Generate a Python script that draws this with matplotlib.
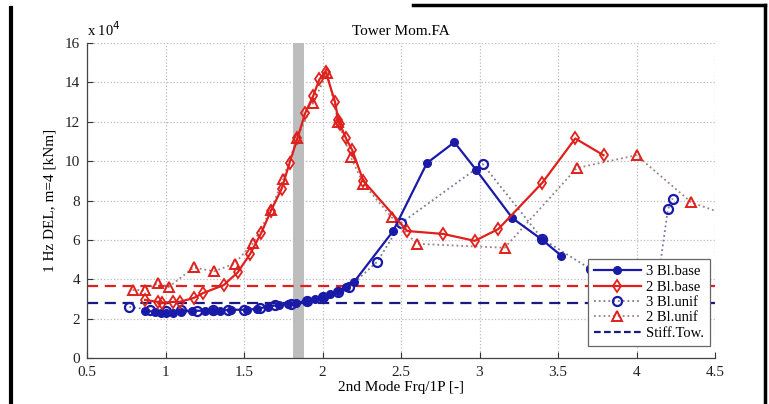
import matplotlib
matplotlib.use("Agg")
import matplotlib.pyplot as plt
from matplotlib.lines import Line2D

plt.rcParams['font.family'] = ['Liberation Serif', 'DejaVu Serif']

# 3 Bl.base (blue solid, filled circles)
x_3base = [0.87, 0.93, 0.97, 1.0, 1.05, 1.1, 1.17, 1.25, 1.3, 1.35, 1.42, 1.52, 1.58, 1.65,
           1.72, 1.78, 1.83, 1.9, 1.95, 2.0, 2.05, 2.1, 2.15, 2.2, 2.45, 2.665, 2.84, 2.98,
           3.21, 3.40, 3.52]
y_3base = [2.4, 2.35, 2.3, 2.3, 2.3, 2.35, 2.4, 2.4, 2.4, 2.4, 2.45, 2.45, 2.5, 2.6,
           2.7, 2.75, 2.8, 2.9, 3.0, 3.1, 3.25, 3.4, 3.6, 3.85, 6.45, 9.9, 10.96, 9.54,
           7.1, 6.0, 5.2]

# 2 Bl.base (red solid, diamonds)
x_2base = [0.87, 0.95, 0.98, 1.05, 1.09, 1.18, 1.24, 1.37, 1.46, 1.54, 1.61, 1.67, 1.74,
           1.79, 1.84, 1.89, 1.94, 1.98, 2.02, 2.08, 2.1, 2.11, 2.15, 2.19, 2.26, 2.54,
           2.77, 2.97, 3.12, 3.40, 3.61, 3.79]
y_2base = [2.95, 2.85, 2.8, 2.85, 2.85, 3.05, 3.3, 3.7, 4.35, 5.3, 6.35, 7.45, 8.6,
           9.9, 11.15, 12.45, 13.3, 14.15, 14.55, 13.0, 12.1, 11.9, 11.15, 10.55, 9.0, 6.45,
           6.3, 5.95, 6.55, 8.9, 11.15, 10.3]

# 3 Bl.unif (blue dotted, open circles)
x_3unif = [0.77, 0.9, 1.0, 1.1, 1.2, 1.3, 1.4, 1.5, 1.6, 1.7, 1.8, 1.9, 2.0, 2.1, 2.17,
           2.35, 2.5, 3.02, 3.40, 3.71, 4.12, 4.2, 4.23]
y_3unif = [2.6, 2.45, 2.4, 2.45, 2.4, 2.45, 2.45, 2.45, 2.55, 2.7, 2.75, 2.9, 3.1, 3.35, 3.6,
           4.9, 6.85, 9.85, 6.05, 4.5, 3.0, 7.55, 8.1]

# 2 Bl.unif (red dotted, triangles)
x_2unif = [0.79, 0.87, 0.95, 1.02, 1.18, 1.31, 1.44, 1.56, 1.67, 1.75, 1.84, 1.94, 2.03,
           2.1, 2.18, 2.26, 2.44, 2.6, 3.16, 3.62, 4.0, 4.35, 4.6]
y_2unif = [3.45, 3.45, 3.8, 3.6, 4.6, 4.4, 4.8, 5.85, 7.5, 9.1, 11.2, 12.95, 14.5,
           12.0, 10.2, 8.85, 7.15, 5.8, 5.6, 9.65, 10.3, 7.9, 7.2]

# Stiff tower reference levels
stiff_3bl = 2.8
stiff_2bl = 3.65

band = (1.81, 1.88)

blue = '#1a1aa8'
red = '#e0201c'
navy = '#1a1a80'

fig = plt.figure(figsize=(7.69, 4.04), dpi=100)
ax = fig.add_axes([87/769, 1-358/404, (715-87)/769, (358-43)/404])

ax.axvspan(band[0], band[1], color='#bdbdbd', zorder=1, lw=0)

ax.axhline(stiff_2bl, color=red, ls='--', lw=1.6, dashes=(5, 3), zorder=2)
ax.axhline(stiff_3bl, color=navy, ls='--', lw=1.6, dashes=(5, 3), zorder=2)

ax.plot(x_3unif, y_3unif, ls=':', color='#7a7a9a', lw=1.3, marker='o', mfc='none',
        mec=blue, mew=1.6, ms=6.5, zorder=3)
ax.plot(x_2unif, y_2unif, ls=':', color='#a08080', lw=1.3, marker='^', mfc='none',
        mec=red, mew=1.4, ms=7.5, zorder=3)
ax.plot(x_3base, y_3base, ls='-', color=blue, lw=1.6, marker='o', mfc=blue, mec=blue,
        ms=5.5, zorder=4)
ax.plot(x_2base, y_2base, ls='-', color=red, lw=1.6, marker='d', mfc='none', mec=red,
        mew=1.3, ms=6.5, zorder=4)

ax.set_xlim(0.5, 4.5)
ax.set_ylim(0, 16)
ax.set_xticks([0.5, 1, 1.5, 2, 2.5, 3, 3.5, 4, 4.5])
ax.set_xticklabels(['0.5', '1', '1.5', '2', '2.5', '3', '3.5', '4', '4.5'])
ax.set_yticks([0, 2, 4, 6, 8, 10, 12, 14, 16])
ax.tick_params(direction='in', labelsize=11, length=4, width=0.8, colors='#333333',
               labelcolor='#222222')
ax.tick_params(axis='x', pad=6)
ax.tick_params(axis='y', pad=5)
ax.grid(True, ls=':', color='#bbbbbb', lw=0.9)
ax.set_axisbelow(True)
for s in ['top', 'right']:
    ax.spines[s].set_visible(False)
for s in ['left', 'bottom']:
    ax.spines[s].set_color('#444444')
    ax.spines[s].set_linewidth(0.9)

ax.set_title('Tower Mom.FA', fontsize=11, pad=6)
ax.set_xlabel('2nd Mode Frq/1P [-]', fontsize=11, labelpad=1)
ax.set_ylabel('1 Hz DEL, m=4 [kNm]', fontsize=11, labelpad=6)
ax.text(0.0, 1.012, r'x 10$^4$', transform=ax.transAxes, fontsize=10.5, ha='left', va='bottom')

handles = [
    Line2D([], [], ls='-', color=blue, lw=1.6, marker='o', mfc=blue, mec=blue, ms=5.5),
    Line2D([], [], ls='-', color=red, lw=1.6, marker='d', mfc='none', mec=red, mew=1.3, ms=6.5),
    Line2D([], [], ls=':', color='#7a7a9a', lw=1.3, marker='o', mfc='none', mec=blue, mew=1.6, ms=6.5),
    Line2D([], [], ls=':', color='#a08080', lw=1.3, marker='^', mfc='none', mec=red, mew=1.4, ms=7.5),
    Line2D([], [], ls='--', color=navy, lw=1.6, dashes=(3, 1.5)),
]
labels = ['3 Bl.base', '2 Bl.base', '3 Bl.unif', '2 Bl.unif', 'Stiff.Tow.']
leg = ax.legend(handles, labels, loc='lower right', bbox_to_anchor=(0.997, 0.03),
                fontsize=10.5, frameon=True, fancybox=False, framealpha=1,
                edgecolor='#666666', handlelength=3.2, handletextpad=0.4,
                labelspacing=0.15, borderpad=0.4, borderaxespad=0.2)
leg.get_frame().set_linewidth(0.9)

# black frame fragments around the picture
fig.add_artist(Line2D([11/769, 11/769], [0, 1 - 8/404], color='black', lw=3,
                      transform=fig.transFigure))
fig.add_artist(Line2D([413/769, 765/769], [1 - 5/404, 1 - 5/404], color='black', lw=2.5,
                      transform=fig.transFigure))
fig.add_artist(Line2D([765/769, 765/769], [0, 1 - 5/404], color='black', lw=2.5,
                      transform=fig.transFigure))

fig.savefig('out.png', dpi=100)
